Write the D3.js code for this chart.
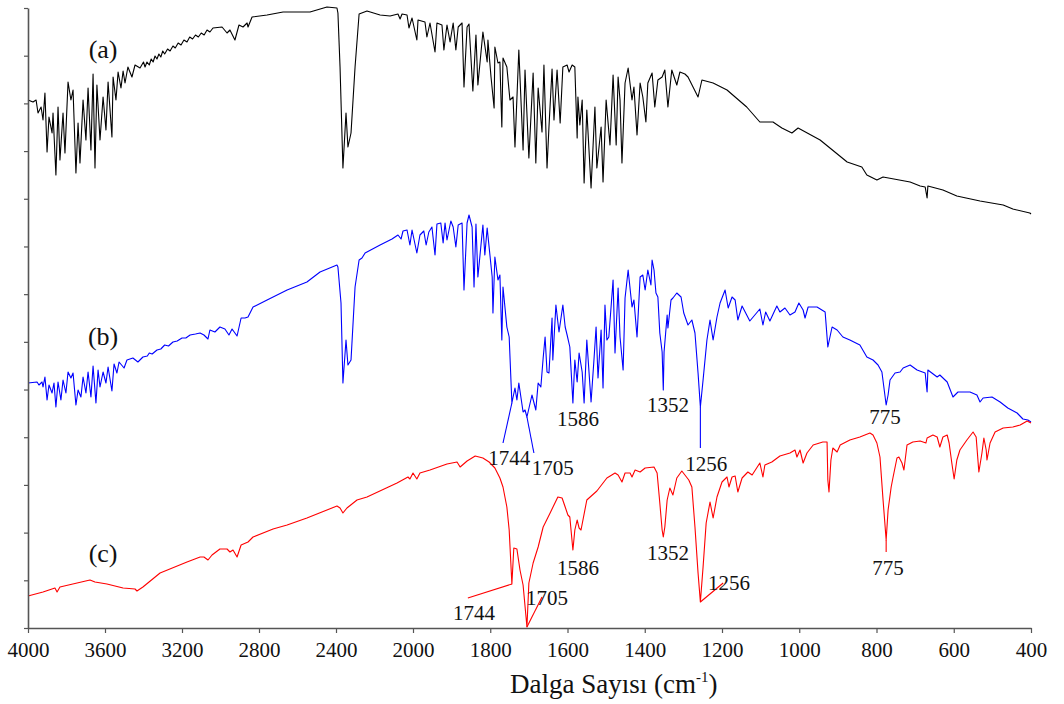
<!DOCTYPE html>
<html><head><meta charset="utf-8">
<script src="https://cdn.jsdelivr.net/npm/d3@7"></script>
<style>
body{margin:0;background:#fff;}
text{font-family:"Liberation Serif","Times New Roman",serif;}
</style></head>
<body><svg id="chart" width="1064" height="704"></svg>
<script>
// x ticks (wavenumber, cm-1)
const xTicks = [4000,3600,3200,2800,2400,2000,1800,1600,1400,1200,1000,800,600,400];

// spectrum (a) – black  [wavenumber, transmittance a.u.]
const specA = [[4000,528],[3974,526],[3958,528],[3948,515],[3932,521],[3922,508],[3912,535],[3901,476],[3891,511],[3875,495],[3870,515],[3855,453],[3844,521],[3834,468],[3818,515],[3808,475],[3792,546],[3777,528],[3766,538],[3751,455],[3740,505],[3730,465],[3714,528],[3699,488],[3688,540],[3673,478],[3662,554],[3652,460],[3642,543],[3626,488],[3610,531],[3595,498],[3584,546],[3564,491],[3558,551],[3543,528],[3532,556],[3517,540],[3506,557],[3496,545],[3481,561],[3460,551],[3444,563],[3418,560],[3400,566],[3392,561],[3382,566],[3370,563],[3360,569],[3350,566],[3340,572],[3330,569],[3320,574],[3310,571],[3300,577],[3290,574],[3275,579],[3262,577],[3247,582],[3235,580],[3220,585],[3205,583],[3190,588],[3174,586],[3160,591],[3145,589],[3130,593],[3115,591],[3100,595],[3085,593],[3070,598],[3055,596],[3039,600],[2992,601],[2966,595],[2951,598],[2925,588],[2904,603],[2883,601],[2862,605],[2857,601],[2836,611],[2758,613],[2675,616],[2603,616],[2535,616],[2447,621],[2395,620],[2390,615],[2379,561],[2364,460],[2348,515],[2338,481],[2322,495],[2301,561],[2280,614],[2239,617],[2171,613],[2119,612],[2078,614],[2067,609],[2057,614],[2031,613],[2021,600],[2005,610],[1990,588],[1987,608],[1969,606],[1964,591],[1956,605],[1943,576],[1938,605],[1925,603],[1920,578],[1912,603],[1904,586],[1896,605],[1889,578],[1883,601],[1873,605],[1868,541],[1860,601],[1855,604],[1845,537],[1837,593],[1832,543],[1819,596],[1808,566],[1806,588],[1798,551],[1790,520],[1788,581],[1780,565],[1775,566],[1770,501],[1767,570],[1757,561],[1749,528],[1741,531],[1736,481],[1726,578],[1715,478],[1710,558],[1700,470],[1689,555],[1682,465],[1676,540],[1666,496],[1661,563],[1653,460],[1648,501],[1640,559],[1635,508],[1627,558],[1619,505],[1612,561],[1601,563],[1596,556],[1588,563],[1581,561],[1575,490],[1573,531],[1568,503],[1562,528],[1557,445],[1550,518],[1539,440],[1529,521],[1524,460],[1513,501],[1508,446],[1500,528],[1490,483],[1482,553],[1474,483],[1469,551],[1464,528],[1459,465],[1451,545],[1443,560],[1433,528],[1428,541],[1420,493],[1412,545],[1405,531],[1397,506],[1392,545],[1381,555],[1374,521],[1366,548],[1355,551],[1348,558],[1340,521],[1330,558],[1317,543],[1309,556],[1296,554],[1288,551],[1262,531],[1252,548],[1223,545],[1187,538],[1136,521],[1102,506],[1068,506],[1045,500],[1019,495],[1003,500],[946,488],[876,466],[838,461],[825,453],[799,448],[783,451],[713,446],[687,442],[674,441],[669,430],[667,442],[628,438],[592,432],[532,427],[472,423],[447,419],[403,415],[400,414]];

// spectrum (b) – blue
const specB = [[4000,245],[3953,246],[3943,243],[3927,246],[3922,241],[3912,251],[3901,228],[3891,243],[3875,235],[3865,245],[3855,221],[3844,246],[3829,228],[3818,248],[3803,235],[3792,256],[3777,250],[3766,255],[3751,223],[3740,238],[3725,231],[3714,251],[3699,235],[3688,256],[3673,231],[3662,262],[3647,225],[3636,258],[3626,241],[3610,256],[3595,245],[3584,261],[3564,237],[3553,264],[3538,255],[3527,266],[3501,260],[3486,268],[3455,270],[3429,266],[3403,271],[3380,272],[3370,275],[3355,274],[3330,278],[3310,279],[3290,283],[3270,282],[3247,286],[3225,287],[3200,290],[3180,290],[3158,293],[3130,294],[3106,295],[3086,293],[3065,289],[3055,298],[3029,296],[3003,301],[2977,299],[2956,293],[2940,299],[2914,292],[2893,310],[2873,310],[2857,311],[2831,321],[2758,328],[2654,338],[2551,346],[2483,356],[2395,363],[2390,361],[2374,325],[2364,245],[2348,288],[2338,263],[2322,268],[2301,341],[2280,368],[2265,370],[2249,375],[2171,383],[2109,389],[2078,393],[2062,389],[2052,397],[2031,398],[2016,383],[2005,398],[1990,375],[1982,393],[1972,397],[1966,383],[1959,396],[1951,401],[1943,373],[1938,404],[1928,405],[1922,385],[1917,405],[1912,388],[1902,407],[1896,401],[1889,381],[1883,403],[1873,405],[1868,338],[1860,405],[1855,413],[1847,401],[1842,341],[1837,404],[1832,351],[1819,403],[1814,373],[1808,400],[1795,351],[1793,315],[1788,371],[1780,348],[1775,353],[1770,288],[1767,341],[1757,301],[1751,291],[1744,225],[1736,240],[1731,228],[1726,245],[1715,216],[1710,218],[1705,211],[1692,233],[1682,218],[1676,245],[1669,241],[1663,270],[1658,291],[1653,256],[1648,255],[1640,310],[1638,268],[1630,323],[1622,296],[1612,323],[1606,301],[1601,293],[1594,281],[1586,225],[1581,268],[1575,246],[1570,275],[1562,256],[1557,225],[1550,288],[1539,226],[1531,271],[1526,301],[1521,250],[1513,298],[1508,240],[1503,323],[1498,288],[1493,291],[1482,348],[1477,275],[1469,340],[1464,291],[1456,258],[1451,330],[1443,358],[1433,321],[1428,328],[1420,291],[1412,351],[1405,353],[1399,338],[1392,358],[1384,343],[1381,368],[1376,358],[1371,335],[1366,331],[1361,295],[1355,276],[1352,238],[1350,276],[1342,313],[1340,300],[1332,328],[1327,330],[1317,335],[1306,331],[1299,315],[1288,303],[1278,308],[1270,295],[1262,255],[1256,221],[1249,248],[1239,288],[1231,308],[1223,288],[1213,311],[1205,325],[1192,338],[1184,320],[1174,331],[1166,328],[1159,308],[1148,322],[1128,307],[1102,319],[1094,303],[1087,316],[1076,307],[1058,322],[1050,316],[1037,320],[1024,313],[1011,316],[1001,325],[990,318],[985,310],[977,321],[954,321],[933,316],[926,281],[915,301],[902,298],[887,291],[869,288],[843,283],[825,271],[809,268],[796,263],[786,256],[775,223],[770,233],[765,248],[752,255],[739,256],[731,260],[713,263],[695,258],[674,255],[669,236],[667,258],[643,251],[636,253],[617,246],[602,231],[589,236],[558,236],[540,233],[532,226],[524,230],[501,231],[480,226],[460,220],[436,215],[421,209],[408,208],[400,206]];

// spectrum (c) – red
const specC = [[4000,32],[3922,36],[3860,40],[3849,36],[3834,41],[3745,45],[3678,48],[3652,46],[3590,44],[3506,40],[3444,39],[3434,37],[3403,41],[3314,55],[3174,66],[3106,71],[3086,71],[3065,68],[3044,73],[3003,79],[2966,79],[2951,76],[2935,78],[2914,71],[2893,83],[2857,86],[2831,91],[2727,99],[2654,103],[2551,110],[2395,122],[2379,120],[2364,115],[2343,120],[2291,128],[2239,131],[2083,145],[2026,151],[2016,149],[2000,155],[1990,149],[1982,155],[1956,158],[1912,164],[1886,166],[1878,161],[1860,167],[1839,172],[1819,170],[1803,166],[1788,160],[1775,150],[1767,141],[1757,121],[1751,98],[1744,44],[1739,80],[1731,79],[1723,58],[1715,43],[1705,1],[1700,45],[1689,65],[1676,81],[1663,101],[1645,115],[1625,131],[1614,130],[1606,121],[1599,113],[1594,111],[1586,78],[1581,98],[1575,108],[1570,100],[1565,98],[1550,128],[1524,137],[1498,150],[1477,155],[1469,153],[1459,146],[1451,155],[1438,155],[1433,151],[1425,158],[1412,156],[1399,160],[1376,161],[1368,155],[1361,125],[1355,98],[1352,91],[1348,101],[1342,128],[1335,140],[1327,133],[1317,150],[1304,157],[1296,153],[1286,148],[1278,141],[1270,101],[1262,55],[1256,26],[1249,61],[1241,105],[1231,126],[1223,110],[1213,131],[1200,146],[1187,151],[1182,141],[1174,151],[1166,152],[1159,136],[1148,150],[1133,156],[1122,153],[1102,165],[1094,151],[1089,163],[1071,166],[1050,172],[1024,175],[1011,178],[1006,171],[998,178],[990,165],[980,175],[964,183],[939,186],[928,186],[926,148],[923,136],[918,168],[913,180],[902,176],[894,183],[869,188],[843,191],[817,195],[809,193],[799,185],[791,171],[783,128],[775,88],[770,118],[762,141],[757,151],[747,170],[742,171],[734,165],[729,158],[721,183],[706,186],[687,187],[672,185],[669,190],[654,193],[643,191],[636,181],[628,191],[617,193],[612,185],[605,165],[599,149],[592,168],[584,178],[566,188],[550,196],[542,191],[535,156],[527,175],[522,190],[516,178],[514,168],[506,185],[493,196],[472,200],[447,201],[428,203],[410,207],[400,205]];

const seriesNames = ["(a)","(b)","(c)"];
const seriesColors = ["#000000","#0000ff","#ff0000"];
const seriesLabelPos = [[3610,570],[3610,283],[3610,66]];

// peak leader lines [series index, from, to]
const leaders = [
  [1,[1744,225],[1767,185]],
  [1,[1705,211],[1687,175]],
  [1,[1256,221],[1256,180]],
  [2,[1744,44],[1858,30]],
  [2,[1705,1],[1666,31]],
  [2,[1256,26],[1197,45]],
  [2,[775,88],[775,76]]
];
// peak labels [text, position]
const peakLabels = [
  ["1744",[1751,163]],["1705",[1638,153]],["1586",[1573,202]],["1352",[1340,216]],["1256",[1241,157]],["775",[778,204]],
  ["1744",[1842,8]],["1705",[1653,23]],["1586",[1573,53]],["1352",[1340,68]],["1256",[1182,38]],["775",[770,53]]
];

const svg = d3.select("#chart");
svg.append("rect").attr("width",1064).attr("height",704).attr("fill","#fff");

const x = d3.scaleLinear().domain([4000,2000,400]).range([28,413,1031]);
const y = d3.scaleLinear().domain([0,620]).range([628,8]);
const yTicks = d3.range(0,14).map(i => i*620/13);

const line = d3.line().x(d=>x(d[0])).y(d=>y(d[1]));

[specA,specB,specC].forEach((s,i)=>{
  svg.append("path").datum(s).attr("d",line)
    .attr("fill","none").attr("stroke",seriesColors[i]).attr("stroke-width",1.1)
    .attr("stroke-linejoin","round");
});

svg.selectAll(".leader").data(leaders).enter().append("line")
  .attr("x1",d=>x(d[1][0])).attr("y1",d=>y(d[1][1]))
  .attr("x2",d=>x(d[2][0])).attr("y2",d=>y(d[2][1]))
  .attr("stroke",d=>seriesColors[d[0]]).attr("stroke-width",1.1);

svg.selectAll(".pl").data(peakLabels).enter().append("text")
  .attr("x",d=>x(d[1][0])).attr("y",d=>y(d[1][1]))
  .attr("text-anchor","middle").attr("font-size",21).attr("fill","#111")
  .text(d=>d[0]);

svg.selectAll(".sl").data(seriesNames).enter().append("text")
  .attr("x",(d,i)=>x(seriesLabelPos[i][0])).attr("y",(d,i)=>y(seriesLabelPos[i][1]))
  .attr("text-anchor","middle").attr("font-size",26).attr("fill","#111")
  .text(d=>d);

// axes
const xAxis = svg.append("g").attr("transform","translate(0,628)")
  .call(d3.axisBottom(x).tickValues(xTicks).tickSize(5).tickSizeOuter(0).tickPadding(9).tickFormat(d3.format("d")));
xAxis.selectAll("text").attr("font-size",21).attr("fill","#111")
  .style("font-family",'"Liberation Serif","Times New Roman",serif');
xAxis.select(".domain").attr("stroke","#555").attr("stroke-width",1.6);
xAxis.selectAll(".tick line").attr("stroke","#555").attr("stroke-width",1.2);

const yAxis = svg.append("g").attr("transform","translate(28,0)")
  .call(d3.axisLeft(y).tickValues(yTicks).tickSize(4).tickSizeOuter(0).tickFormat(""));
yAxis.select(".domain").attr("stroke","#555").attr("stroke-width",1.6);
yAxis.selectAll(".tick line").attr("stroke","#555").attr("stroke-width",1.2);

// axis title
const title = svg.append("text").attr("x",510).attr("y",693).attr("font-size",27).attr("fill","#111");
title.append("tspan").text("Dalga Sayısı (cm");
title.append("tspan").attr("font-size",15).attr("dy",-11).text("-1");
title.append("tspan").attr("dy",11).text(")");
</script></body></html>
